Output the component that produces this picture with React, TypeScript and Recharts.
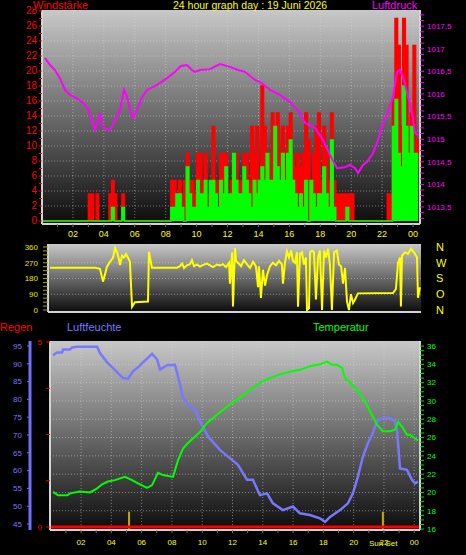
import React from 'react'
import { ComposedChart, Area, Line, XAxis, YAxis, CartesianGrid, ReferenceLine } from 'recharts'

const FONT = '"Liberation Sans", Arial, sans-serif'

// top panel: wind in 10 minute steps from the left edge (km/h)
const gust = [
  0, 0, 0, 0, 0, 0, 0, 0, 0, 0,
  0, 0, 0, 0, 0, 0, 0, 0, 3.6, 3.6,
  0, 3.6, 0, 0, 0, 0, 3.6, 5.4, 3.6, 0,
  0, 3.6, 0, 0, 0, 0, 0, 0, 0, 0,
  0, 0, 0, 0, 0, 0, 0, 0, 0, 0,
  5.4, 5.4, 3.6, 5.4, 3.6, 5.4, 9, 5.4, 5.4, 3.6,
  9, 9, 5.4, 9, 3.6, 1.8, 12.6, 5.4, 5.4, 9,
  9, 9, 3.6, 5.4, 9, 9, 5.4, 5.4, 9, 9,
  5.4, 12.6, 9, 12.6, 5.4, 18, 12.6, 9, 9, 14.4,
  12.6, 14.4, 9, 12.6, 9, 12.6, 14.4, 9, 7.2, 9,
  7.2, 9, 14.4, 10.8, 5.4, 9, 12.6, 14.4, 5.4, 12.6,
  9, 5.4, 14.4, 5.4, 3.6, 3.6, 3.6, 3.6, 3.6, 3.6,
  3.6, 0, 0, 0, 0, 0, 0, 0, 0, 0,
  0, 0, 0, 0, 3.6, 3.6, 16.2, 27, 23.4, 12.6,
  27, 23.4, 12.6, 14.4, 23.4, 10.8, 7.2,
]
const wind = [
  0, 0, 0, 0, 0, 0, 0, 0, 0, 0,
  0, 0, 0, 0, 0, 0, 0, 0, 0, 0,
  0, 0, 0, 0, 0, 0, 0, 1.8, 0, 0,
  0, 1.8, 0, 0, 0, 0, 0, 0, 0, 0,
  0, 0, 0, 0, 0, 0, 0, 0, 0, 0,
  1.8, 1.8, 3.6, 3.6, 1.8, 0, 7.2, 3.6, 1.8, 1.8,
  5.4, 3.6, 3.6, 5.4, 1.8, 5.4, 5.4, 3.6, 1.8, 5.4,
  3.6, 7.2, 3.6, 3.6, 9, 5.4, 3.6, 3.6, 7.2, 5.4,
  3.6, 1.8, 5.4, 3.6, 5.4, 7.2, 5.4, 9, 5.4, 5.4,
  12.6, 7.2, 5.4, 9, 5.4, 9, 10.8, 5.4, 3.6, 1.8,
  3.6, 1.8, 5.4, 0, 5.4, 3.6, 1.8, 3.6, 3.6, 7.2,
  3.6, 1.8, 10.8, 1.8, 0, 0, 0, 0, 1.8, 0,
  0, 0, 0, 0, 0, 0, 0, 0, 0, 0,
  0, 0, 0, 0, 0, 0, 12.6, 16.2, 9, 7.2,
  18, 12.6, 9, 12.6, 9, 9, 9,
]

// pressure, hPa
const pressureHour = [
  0.19, 0.52, 0.84, 1.16, 1.49, 1.81, 2.33, 2.78, 3.0, 3.42,
  3.75, 3.95, 4.4, 4.72, 5.05, 5.3, 5.5, 5.69, 5.89, 6.14,
  6.47, 6.79, 7.44, 8.09, 8.6, 8.99, 9.38, 9.7, 9.9, 10.22,
  10.87, 11.51, 12.16, 12.68, 13.13, 13.78, 14.23, 14.75, 15.39, 16.04,
  16.69, 17.01, 17.66, 18.18, 18.63, 19.08, 19.6, 19.92, 20.25, 20.44,
  20.76, 21.02, 21.41, 21.73, 22.06, 22.38, 22.7, 22.96, 23.16, 23.35,
  23.61, 23.93, 24.13, 24.32,
]
const pressureValue = [
  1016.8, 1016.64, 1016.53, 1016.35, 1016.09, 1015.98, 1015.89, 1015.76, 1015.65, 1015.2,
  1015.58, 1015.25, 1015.2, 1015.42, 1015.65, 1016.09, 1015.93, 1015.65, 1015.47, 1015.65,
  1015.93, 1016.09, 1016.2, 1016.35, 1016.49, 1016.62, 1016.64, 1016.53, 1016.49, 1016.53,
  1016.55, 1016.66, 1016.6, 1016.53, 1016.49, 1016.31, 1016.24, 1016.09, 1015.98, 1015.82,
  1015.58, 1015.36, 1015.25, 1014.98, 1014.65, 1014.36, 1014.38, 1014.43, 1014.36, 1014.25,
  1014.43, 1014.5, 1014.69, 1014.98, 1015.36, 1015.6, 1015.93, 1016.49, 1016.53, 1016.38,
  1016.04, 1015.58, 1015.14, 1015.09,
]

// wind direction, degrees
const dirHour = [
  0.13, 3.09, 3.42, 3.62, 3.88, 4.08, 4.28, 4.41, 4.54, 4.67,
  4.74, 4.87, 5.0, 5.13, 5.26, 5.39, 5.53, 5.72, 6.58, 6.64,
  6.84, 8.49, 8.68, 8.82, 8.95, 9.14, 9.34, 9.47, 9.61, 9.8,
  10.0, 10.2, 10.46, 10.66, 10.86, 11.12, 11.32, 11.51, 11.71, 11.91,
  11.97, 12.11, 12.17, 12.3, 12.37, 12.5, 12.7, 12.89, 13.09, 13.29,
  13.49, 13.68, 13.82, 13.88, 14.01, 14.14, 14.28, 14.41, 14.61, 14.8,
  15.0, 15.2, 15.39, 15.46, 15.59, 15.72, 15.86, 15.99, 16.12, 16.25,
  16.38, 16.45, 16.58, 16.71, 16.84, 16.97, 17.04, 17.17, 17.24, 17.37,
  17.5, 17.63, 17.76, 17.89, 18.03, 18.16, 18.29, 18.42, 18.55, 18.68,
  18.82, 19.01, 19.14, 19.28, 19.41, 19.54, 19.67, 19.8, 19.93, 20.07,
  20.2, 20.39, 22.7, 22.89, 23.03, 23.16, 23.22, 23.29, 23.49, 23.68,
  23.88, 24.08, 24.28, 24.34, 24.47,
]
const dirValue = [
  242, 242, 235, 162, 247, 276, 300, 355, 330, 290,
  257, 310, 300, 320, 300, 275, 19, 45, 48, 333,
  242, 242, 250, 265, 240, 255, 262, 285, 250, 260,
  248, 258, 265, 255, 245, 260, 255, 262, 245, 270,
  150, 330, 20, 354, 280, 270, 250, 285, 262, 240,
  275, 250, 130, 250, 69, 230, 140, 200, 250, 270,
  255, 280, 260, 150, 270, 335, 300, 340, 280, 270,
  330, 19, 320, 330, 260, 300, 0, 10, 330, 340,
  330, 60, 300, 340, 0, 340, 300, 350, 260, 0,
  330, 340, 260, 250, 150, 240, 50, 0, 90, 40,
  60, 95, 97, 120, 270, 300, 20, 310, 330, 320,
  350, 330, 300, 70, 130,
]

// humidity %, temperature °C, rain mm
const humHour = [
  0.15, 0.42, 0.75, 0.81, 1.27, 1.41, 1.74, 3.06, 3.25, 3.72,
  4.11, 4.77, 5.1, 5.43, 5.76, 6.09, 6.69, 7.02, 7.22, 7.68,
  8.2, 8.4, 8.73, 9.0, 9.2, 9.53, 9.85, 10.38, 11.17, 11.83,
  12.36, 12.96, 13.35, 13.81, 14.28, 14.67, 15.33, 15.99, 16.45, 17.11,
  17.77, 18.11, 18.44, 19.1, 19.62, 19.95, 20.28, 20.61, 20.94, 21.21,
  21.54, 21.93, 22.4, 22.73, 22.86, 23.06, 23.52, 23.85, 24.05, 24.24,
]
const humValue = [
  92.4, 93.2, 93.2, 94.0, 94.0, 94.6, 94.8, 94.8, 93.0, 90.4,
  88.8, 86.0, 85.8, 87.9, 89.0, 90.4, 92.8, 91.2, 88.4, 89.6,
  89.7, 86.5, 80.4, 79.0, 77.6, 77.4, 73.8, 69.6, 65.8, 63.5,
  61.6, 57.4, 57.4, 53.1, 53.6, 50.8, 48.9, 49.9, 48.0, 47.5,
  46.6, 45.6, 47.0, 48.9, 50.8, 53.6, 58.3, 63.9, 67.7, 70.0,
  73.8, 74.8, 74.8, 73.8, 71.4, 60.6, 60.2, 57.4, 56.4, 56.9,
]
const tempHour = [
  0.15, 0.48, 1.08, 1.27, 1.93, 2.59, 3.06, 3.39, 3.78, 4.24,
  4.9, 5.37, 5.76, 6.36, 6.69, 7.08, 7.41, 8.07, 8.4, 8.73,
  9.06, 9.39, 9.85, 10.32, 10.98, 11.64, 12.36, 13.16, 13.82, 14.47,
  15.13, 15.79, 16.45, 17.11, 17.77, 18.24, 18.57, 18.9, 19.23, 19.43,
  19.76, 20.22, 20.61, 21.08, 21.54, 21.93, 22.4, 22.73, 22.93, 23.19,
  23.52, 23.72, 24.05, 24.24,
]
const tempValue = [
  20.07, 19.7, 19.7, 19.9, 20.1, 20.0, 20.45, 20.9, 21.2, 21.35,
  21.7, 21.35, 21.0, 20.5, 20.8, 22.15, 21.9, 21.7, 23.5, 24.8,
  25.4, 25.9, 26.6, 27.6, 28.5, 29.4, 30.2, 31.2, 32.0, 32.5,
  32.9, 33.2, 33.4, 33.8, 34.0, 34.3, 33.95, 33.95, 33.6, 32.5,
  32.0, 31.2, 30.3, 28.9, 27.4, 26.7, 26.7, 26.85, 27.7, 27.2,
  26.3, 26.3, 25.9, 25.7,
]
const rainHour = [0, 24.3]
const rainValue = [0, 0]

const sunriseHour = 5.17
const sunsetHour = 21.93

// ticks
const hourTicks = [1, 2, 3, 4, 5, 6, 7, 8, 9, 10, 11, 12, 13, 14, 15, 16, 17, 18, 19, 20, 21, 22, 23, 24]
const evenHours = [2, 4, 6, 8, 10, 12, 14, 16, 18, 20, 22, 24]
const windTicks = [0, 1, 2, 3, 4, 5, 6, 7, 8, 9, 10, 11, 12, 13, 14, 15, 16, 17, 18, 19, 20, 21, 22, 23, 24, 25, 26, 27, 28]
const windGrid = [2, 4, 6, 8, 10, 12, 14, 16, 18, 20, 22, 24, 26]
const pressureTicks = Array.from({ length: 37 }, (_, i) => 1013.25 + i * 0.125)
const dirTicks = Array.from({ length: 17 }, (_, i) => i * 22.5)
const compassTicks = [0, 90, 180, 270, 360]
const compassNames: Record<number, string> = { 0: 'N', 90: 'O', 180: 'S', 270: 'W', 360: 'N' }
const humTicks = [45, 50, 55, 60, 65, 70, 75, 80, 85, 90, 95]
const rainTicks = [0, 1.25, 2.5, 3.75, 5]
const tempTicks = Array.from({ length: 41 }, (_, i) => 16 + i * 0.5)
const tempGrid = [18, 20, 22, 24, 26, 28, 30, 32, 34]

const windRows = gust.map((g, i) => ({ t: i / 6, gust: g, wind: wind[i] }))
const pressureRows = pressureHour.map((t, i) => ({ t, p: pressureValue[i] }))
const dirRows = dirHour.map((t, i) => ({ t, d: dirValue[i] }))
const humRows = humHour.map((t, i) => ({ t, h: humValue[i] }))
const tempRows = tempHour.map((t, i) => ({ t, c: tempValue[i] }))
const rainRows = rainHour.map((t, i) => ({ t, r: rainValue[i] }))

const hourLabel = (h: number) => (h % 2 === 0 ? String(h % 24).padStart(2, '0') : '')
const pressureLabel = (v: number) =>
  Math.abs(v * 2 - Math.round(v * 2)) < 1e-6 && v >= 1013.5 && v <= 1017.5 ? String(v).replace('.', ',') : ''

const labelTick = (color: string, size: number, fmt: (v: number) => string, dy = '0.35em') => (props: any) => {
  const { x, y, payload, textAnchor } = props
  const s = fmt(payload.value)
  if (!s) return <g />
  return (
    <text x={x} y={y} dy={dy} textAnchor={textAnchor} fill={color} fontSize={size} fontFamily={FONT}>
      {s}
    </text>
  )
}

const gridStyle = { stroke: '#d8d8d8', strokeOpacity: 0.5, strokeDasharray: '1 2' }
const edge = { stroke: '#d4d4d4', strokeWidth: 2 }

function Background({ id }: { id: string }) {
  return (
    <defs>
      <linearGradient id={id} x1="0" y1="0" x2="0" y2="1">
        <stop offset="0" stopColor="#c8c8c8" />
        <stop offset="1" stopColor="#0c0c0c" />
      </linearGradient>
    </defs>
  )
}

const title = (left: number, top: number, color: string, size = 11) => ({
  position: 'absolute' as const,
  left,
  top,
  color,
  fontSize: size,
  lineHeight: '11px',
  whiteSpace: 'nowrap' as const,
})

export default function App() {
  return (
    <div
      style={{
        position: 'absolute',
        left: 0,
        top: 0,
        width: 466,
        height: 555,
        background: '#000',
        fontFamily: FONT,
        overflow: 'hidden',
      }}
    >
      <div style={{ position: 'absolute', left: 0, top: 0 }}>
        <ComposedChart width={466} height={245} data={windRows} margin={{ top: 10, right: 0, bottom: 5, left: 0 }}>
          <Background id="bgTop" />
          <CartesianGrid yAxisId="w" fill="url(#bgTop)" {...gridStyle} horizontalValues={windGrid} verticalValues={evenHours} />
          <XAxis
            dataKey="t"
            type="number"
            domain={[0, 24.45]}
            allowDataOverflow
            ticks={hourTicks}
            interval={0}
            height={16}
            tickSize={3}
            tickMargin={4}
            axisLine={edge}
            tickLine={{ stroke: '#777' }}
            tick={labelTick('#ffff00', 9, hourLabel, '0.71em')}
          />
          <YAxis
            yAxisId="w"
            domain={[-0.4, 28.13]}
            allowDataOverflow
            ticks={windTicks}
            interval={0}
            width={42}
            tickSize={3}
            tickMargin={2}
            axisLine={edge}
            tickLine={{ stroke: '#ff0000' }}
            tick={labelTick('#ff0000', 10, (v) => (v % 2 === 0 ? String(v) : ''))}
          />
          <YAxis
            yAxisId="p"
            orientation="right"
            domain={[1013.124, 1017.858]}
            allowDataOverflow
            ticks={pressureTicks}
            interval={0}
            width={46}
            tickSize={4}
            tickMargin={3}
            axisLine={edge}
            tickLine={{ stroke: '#ff00ff' }}
            tick={labelTick('#ff00ff', 8, pressureLabel)}
          />
          <Area yAxisId="w" type="stepAfter" dataKey="gust" stroke="#ff0000" strokeWidth={1.5} fill="#ff0000" fillOpacity={1} dot={false} isAnimationActive={false} />
          <Area yAxisId="w" type="stepAfter" dataKey="wind" stroke="#00ff00" strokeWidth={1.5} fill="#00ff00" fillOpacity={1} dot={false} isAnimationActive={false} />
          <Line yAxisId="p" data={pressureRows} dataKey="p" type="linear" stroke="#ff00ff" strokeWidth={2} dot={false} isAnimationActive={false} />
        </ComposedChart>
      </div>

      <div style={{ position: 'absolute', left: 0, top: 240 }}>
        <ComposedChart width={466} height={80} data={dirRows} margin={{ top: 4, right: 0, bottom: 7, left: 0 }}>
          <Background id="bgMid" />
          <CartesianGrid yAxisId="d" fill="url(#bgMid)" {...gridStyle} vertical={false} horizontalValues={[90, 180, 270]} />
          <XAxis dataKey="t" type="number" domain={[0, 24.54]} allowDataOverflow height={1} tick={false} tickLine={false} axisLine={edge} />
          <YAxis
            yAxisId="d"
            domain={[-11.4, 377]}
            allowDataOverflow
            ticks={dirTicks}
            interval={0}
            width={48}
            tickSize={5}
            tickMargin={5}
            axisLine={edge}
            tickLine={{ stroke: '#a8a800' }}
            tick={labelTick('#e8e800', 8, (v) => (v % 90 === 0 ? String(v) : ''))}
          />
          <YAxis
            yAxisId="c"
            orientation="right"
            domain={[-11.4, 377]}
            allowDataOverflow
            ticks={compassTicks}
            interval={0}
            width={45}
            tickSize={0}
            tickMargin={15}
            axisLine={false}
            tickLine={false}
            tick={labelTick('#ffff00', 11, (v) => compassNames[v] ?? '')}
          />
          <Line yAxisId="d" dataKey="d" type="linear" stroke="#ffff00" strokeWidth={2} dot={false} isAnimationActive={false} />
        </ComposedChart>
      </div>

      <div style={{ position: 'absolute', left: 0, top: 315 }}>
        <ComposedChart width={466} height={240} data={rainRows} margin={{ top: 26, right: 0, bottom: 5, left: 0 }}>
          <Background id="bgBot" />
          <CartesianGrid yAxisId="temp" fill="url(#bgBot)" {...gridStyle} horizontalValues={tempGrid} verticalValues={evenHours} />
          <XAxis
            dataKey="t"
            type="number"
            domain={[-0.05, 24.38]}
            allowDataOverflow
            ticks={hourTicks}
            interval={0}
            height={20}
            tickSize={3}
            tickMargin={6}
            axisLine={edge}
            tickLine={{ stroke: '#777' }}
            tick={labelTick('#ffff00', 8, hourLabel, '0.71em')}
          />
          {/* inner axis next to the plot: rain; outer axis: humidity */}
          <YAxis
            yAxisId="a-rain"
            domain={[-0.081, 5.027]}
            allowDataOverflow
            ticks={rainTicks}
            interval={0}
            width={20}
            tickSize={4}
            tickMargin={4}
            axisLine={edge}
            tickLine={{ stroke: '#ff0000' }}
            tick={labelTick('#ff0000', 8, (v) => (v === 0 || v === 5 ? String(v) : ''))}
          />
          <YAxis
            yAxisId="b-hum"
            domain={[43.31, 96.4]}
            allowDataOverflow
            ticks={humTicks}
            interval={0}
            width={30}
            tickSize={3}
            tickMargin={5}
            axisLine={{ stroke: '#7070ff', strokeWidth: 3 }}
            tickLine={{ stroke: '#7070ff' }}
            tick={labelTick('#7878ff', 8, (v) => String(v))}
          />
          <YAxis
            yAxisId="temp"
            orientation="right"
            domain={[15.9, 36.55]}
            allowDataOverflow
            ticks={tempTicks}
            interval={0}
            width={46}
            tickSize={4}
            tickMargin={3}
            axisLine={edge}
            tickLine={{ stroke: '#00e000' }}
            tick={labelTick('#00ff00', 8, (v) => (v % 2 === 0 ? String(v) : ''))}
          />
          <ReferenceLine
            yAxisId="temp"
            segment={[{ x: sunriseHour, y: 15.9 }, { x: sunriseHour, y: 17.9 }]}
            stroke="#c8a800"
            strokeWidth={2}
          />
          <ReferenceLine
            yAxisId="temp"
            segment={[{ x: sunsetHour, y: 15.9 }, { x: sunsetHour, y: 17.9 }]}
            stroke="#c8a800"
            strokeWidth={2}
          />
          <Line yAxisId="a-rain" dataKey="r" type="linear" stroke="#ff0000" strokeWidth={3} dot={false} isAnimationActive={false} />
          <Line yAxisId="b-hum" data={humRows} dataKey="h" type="linear" stroke="#7878ff" strokeWidth={2.5} dot={false} isAnimationActive={false} />
          <Line yAxisId="temp" data={tempRows} dataKey="c" type="linear" stroke="#00ff00" strokeWidth={2} dot={false} isAnimationActive={false} />
        </ComposedChart>
      </div>

      <div style={{ ...title(33, 0, '#ff0000'), height: 9, background: '#000' }}>Windstärke</div>
      <div style={title(173, 0, '#ffff00', 10.5)}>24 hour graph day : 19 Juni 2026</div>
      <div style={title(372, 0, '#ff00ff')}>Luftdruck</div>
      <div style={title(0, 322, '#ff0000')}>Regen</div>
      <div style={title(67, 322, '#7878ff')}>Luftfeuchte</div>
      <div style={title(313, 322, '#00ff00')}>Temperatur</div>
      <div style={title(369, 538, '#ffff00', 8)}>Sun Set</div>
    </div>
  )
}
